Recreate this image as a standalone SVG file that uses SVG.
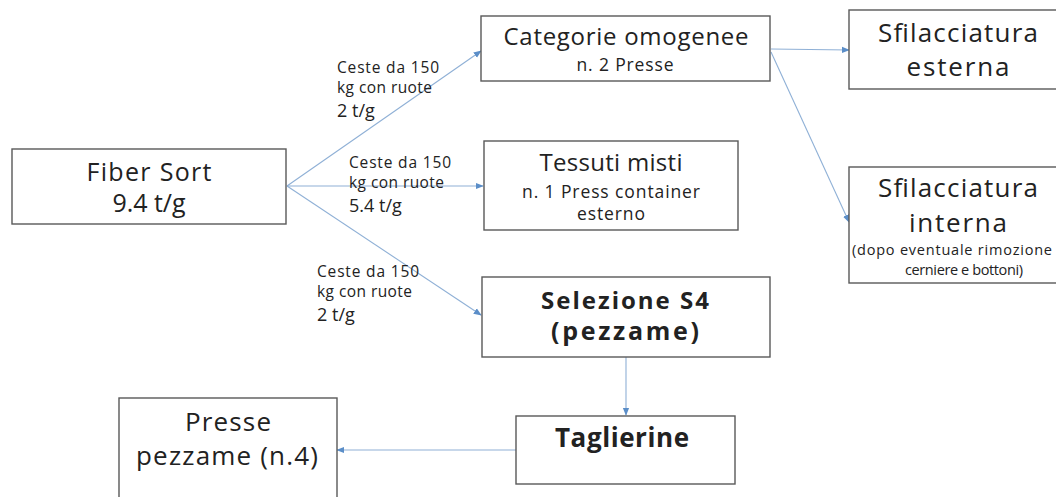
<svg xmlns="http://www.w3.org/2000/svg" width="1056" height="497" viewBox="0 0 1056 497">
<style>
  .box { fill: #ffffff; stroke: #595959; stroke-width: 1.4; }
  text { font-family: "Open Sans", "Liberation Sans", sans-serif; fill: #222222; }
  .t { text-anchor: middle; }
  .big { font-size: 25px; }
  .mid { font-size: 24px; }
  .sub { font-size: 17.5px; }
  .tiny { font-size: 14.5px; }
  .bold { font-weight: bold; }
  .lbl { font-size: 15.5px; }
  .lblb { font-size: 18px; }
  .conn { stroke: #8fb0d6; stroke-width: 1.1; fill: none; marker-end: url(#ah); }
</style>
<defs>
  <marker id="ah" viewBox="0 0 10 10" refX="9" refY="5" markerWidth="8" markerHeight="8" markerUnits="userSpaceOnUse" orient="auto">
    <path d="M0,1 L10,5 L0,9 Z" fill="#5b8ec8"/>
  </marker>
</defs>
<rect width="1056" height="497" fill="#ffffff"/>

<g id="connectors">
  <line class="conn" x1="287" y1="186" x2="481" y2="51"/>
  <line class="conn" x1="287" y1="186" x2="483" y2="186"/>
  <line class="conn" x1="287" y1="186" x2="481" y2="315"/>
  <line class="conn" x1="771" y1="49" x2="849" y2="50"/>
  <line class="conn" x1="771" y1="52" x2="849" y2="222"/>
  <line class="conn" x1="626" y1="357" x2="626" y2="415"/>
  <line class="conn" x1="516" y1="450" x2="337" y2="450"/>
</g>

<g id="edge-labels">
  <text class="lbl" x="337" y="73" textLength="102">Ceste da 150</text>
  <text class="lbl" x="337" y="93" textLength="95">kg con ruote</text>
  <text class="lblb" x="337" y="117">2 t/g</text>
  <text class="lbl" x="349" y="168" textLength="102">Ceste da 150</text>
  <text class="lbl" x="349" y="188" textLength="95">kg con ruote</text>
  <text class="lblb" x="349" y="212">5.4 t/g</text>
  <text class="lbl" x="317" y="277" textLength="102">Ceste da 150</text>
  <text class="lbl" x="317" y="297" textLength="95">kg con ruote</text>
  <text class="lblb" x="317" y="321">2 t/g</text>
</g>

<g id="fiber-sort">
  <rect class="box" x="12" y="149" width="274" height="75"/>
  <text class="t big" x="149" y="181" textLength="125">Fiber Sort</text>
  <text class="t big" x="149" y="212" textLength="73">9.4 t/g</text>
</g>

<g id="categorie-omogenee">
  <rect class="box" x="481" y="16" width="289" height="65"/>
  <text class="t mid" x="626" y="45" textLength="245">Categorie omogenee</text>
  <text class="t sub" x="625" y="71" textLength="97">n. 2 Presse</text>
</g>

<g id="tessuti-misti">
  <rect class="box" x="484" y="141" width="254" height="89"/>
  <text class="t mid" x="611" y="171" textLength="143">Tessuti misti</text>
  <text class="t sub" x="611" y="198" textLength="178">n. 1 Press container</text>
  <text class="t sub" x="611" y="220" textLength="68">esterno</text>
</g>

<g id="selezione-s4">
  <rect class="box" x="482" y="277" width="288" height="80"/>
  <text class="t bold" x="625" y="309" font-size="24" textLength="168">Selezione S4</text>
  <text class="t bold" x="625" y="340" font-size="25" textLength="148">(pezzame)</text>
</g>

<g id="taglierine">
  <rect class="box" x="516" y="416" width="219" height="68"/>
  <text class="t bold" x="622" y="447" font-size="26" textLength="134">Taglierine</text>
</g>

<g id="presse-pezzame">
  <rect class="box" x="119" y="398" width="218" height="120"/>
  <text class="t" x="228" y="431" font-size="26" textLength="86">Presse</text>
  <text class="t" x="227" y="465" font-size="26" textLength="182">pezzame (n.4)</text>
</g>

<g id="sfilacciatura-esterna">
  <rect class="box" x="849" y="10" width="220" height="79"/>
  <text class="t" x="958" y="42" font-size="26" textLength="160">Sfilacciatura</text>
  <text class="t" x="958" y="76" font-size="26" textLength="103">esterna</text>
</g>

<g id="sfilacciatura-interna">
  <rect class="box" x="849" y="167" width="220" height="116"/>
  <text class="t" x="958" y="197" font-size="26" textLength="160">Sfilacciatura</text>
  <text class="t" x="958" y="232" font-size="26" textLength="98">interna</text>
  <text class="t tiny" x="952" y="255" textLength="200">(dopo eventuale rimozione</text>
  <text class="t tiny" x="964" y="275" textLength="118">cerniere e bottoni)</text>
</g>
</svg>
